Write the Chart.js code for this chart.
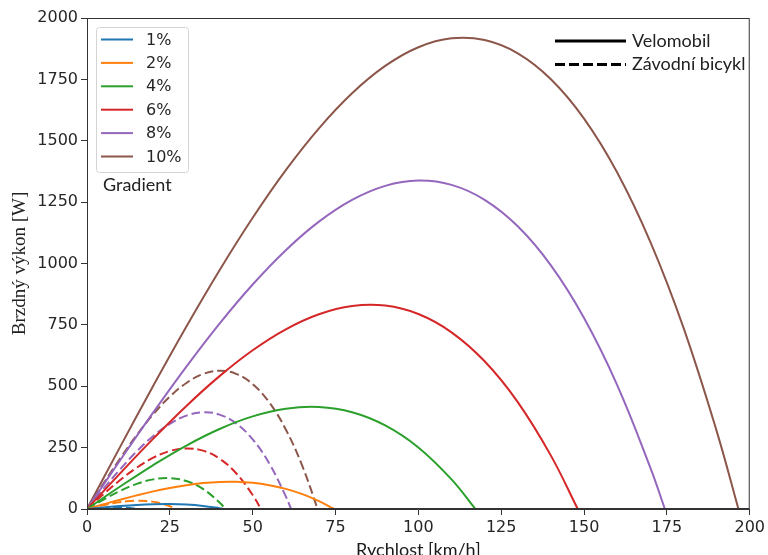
<!DOCTYPE html>
<html>
<head>
<meta charset="utf-8">
<script src="https://cdn.jsdelivr.net/npm/chart.js@4/dist/chart.umd.min.js"></script>
<style>
  html, body { margin: 0; padding: 0; background: #fff; overflow: hidden; }
  canvas { display: block; }
</style>
</head>
<body>
<canvas id="chart" width="768" height="555"></canvas>
<script>
// ----------------------
// DATA
// ----------------------
const grades = ["1%", "2%", "4%", "6%", "8%", "10%"];
const colors = ["#1f77b4", "#ff7f0e", "#2ca02c", "#d62728", "#9467bd", "#8c564b"];
const xTicks = [0, 25, 50, 75, 100, 125, 150, 175, 200];

// Velomobil (solid)
const veloSpeed1 = [0, 5, 10, 15, 20, 25, 30, 35, 40, 41.5];
const veloPower1 = [0, 6.2, 11.8, 16.3, 19.2, 19.9, 17.9, 12.6, 3.5, 0];
const veloSpeed2 = [0, 5, 10, 15, 20, 25, 30, 35, 40, 45, 50, 55, 60, 65, 70, 74.6];
const veloPower2 = [0, 19.2, 38.0, 55.6, 71.8, 85.8, 97.2, 105.5, 110.2, 110.7, 106.5, 97.0, 81.9, 60.5, 32.3, 0];
const veloSpeed4 = [0, 10, 20, 30, 40, 50, 60, 70, 80, 90, 100, 110, 117.2];
const veloPower4 = [0, 91.5, 179.1, 258.5, 325.9, 377.2, 408.3, 415.3, 394.1, 340.5, 250.8, 120.8, 0];
const veloSpeed6 = [0, 10, 20, 30, 40, 50, 60, 70, 80, 90, 100, 110, 120, 130, 140, 148.1];
const veloPower6 = [0, 145.3, 286.6, 419.9, 541.2, 646.6, 732.0, 793.4, 826.9, 828.5, 794.1, 719.7, 601.6, 435.4, 217.4, 0];
const veloSpeed8 = [0, 10, 20, 30, 40, 50, 60, 70, 80, 90, 100, 110, 120, 130, 140, 150, 160, 170, 174.4];
const veloPower8 = [0, 198.6, 393.4, 580.2, 755.3, 914.6, 1054.3, 1170.4, 1258.9, 1316.1, 1337.7, 1320.2, 1259.4, 1151.4, 992.2, 777.9, 504.8, 168.7, 0];
const veloSpeed10 = [0, 10, 20, 30, 40, 50, 60, 70, 80, 90, 100, 110, 120, 130, 140, 150, 160, 170, 180, 190, 196.6];
const veloPower10 = [0, 253.0, 502.1, 743.4, 972.8, 1186.4, 1380.4, 1550.7, 1693.5, 1804.7, 1880.7, 1917.2, 1910.1, 1856.2, 1750.7, 1590.3, 1370.8, 1088.2, 738.9, 318.3, 0];

// Zavodni bicykl (dashed)
const bikeSpeed1 = [0, 2, 4, 6, 8, 10, 12, 14, 15.3];
const bikePower1 = [0, 2.1, 3.9, 5.3, 6.1, 6.0, 4.8, 2.4, 0];
const bikeSpeed2 = [0, 3, 6, 9, 12, 15, 18, 21, 24, 27];
const bikePower2 = [0, 9.7, 18.7, 26.2, 31.5, 33.9, 32.7, 27.1, 16.5, 0];
const bikeSpeed4 = [0, 5, 10, 15, 20, 25, 30, 35, 40, 41.8];
const bikePower4 = [0, 38.6, 73.8, 102.4, 120.7, 125.7, 113.9, 81.9, 26.4, 0];
const bikeSpeed6 = [0, 5, 10, 15, 20, 25, 30, 35, 40, 45, 50, 52.5];
const bikePower6 = [0, 60.5, 117.8, 168.3, 208.9, 236.2, 246.9, 237.6, 205.0, 145.8, 56.8, 0];
const bikeSpeed8 = [0, 5, 10, 15, 20, 25, 30, 35, 40, 45, 50, 55, 60, 61.6];
const bikePower8 = [0, 82.6, 161.8, 234.5, 297.4, 347.1, 380.3, 393.9, 384.5, 348.8, 283.5, 185.5, 51.3, 0];
const bikeSpeed10 = [0, 5, 10, 15, 20, 25, 30, 35, 40, 45, 50, 55, 60, 65, 69.6];
const bikePower10 = [0, 104.6, 205.9, 300.7, 385.7, 457.7, 513.4, 549.6, 563.1, 550.5, 508.6, 434.1, 323.9, 174.6, 0];

const veloSpeeds = [veloSpeed1, veloSpeed2, veloSpeed4, veloSpeed6, veloSpeed8, veloSpeed10];
const veloPowers = [veloPower1, veloPower2, veloPower4, veloPower6, veloPower8, veloPower10];
const bikeSpeeds = [bikeSpeed1, bikeSpeed2, bikeSpeed4, bikeSpeed6, bikeSpeed8, bikeSpeed10];
const bikePowers = [bikePower1, bikePower2, bikePower4, bikePower6, bikePower8, bikePower10];

// ----------------------
// HELPERS
// ----------------------
function toPoints(xs, ys) {
  return xs.map((x, i) => ({ x, y: ys[i] }));
}

function makeSet(label, xs, ys, color, dashed) {
  return {
    label,
    data: toPoints(xs, ys),
    borderColor: color,
    backgroundColor: color,
    borderWidth: 2,
    borderDash: dashed ? [9, 4] : [],
    pointRadius: 0,
    fill: false,
    tension: 0.4
  };
}

const datasets = [];
grades.forEach((g, i) => {
  datasets.push(makeSet(g, veloSpeeds[i], veloPowers[i], colors[i], false));
});
grades.forEach((g, i) => {
  datasets.push(makeSet(g + " bicykl", bikeSpeeds[i], bikePowers[i], colors[i], true));
});

// ----------------------
// LEGENDS + FRAME
// ----------------------
const overlayPlugin = {
  id: "overlay",
  afterDraw(chart) {
    const ctx = chart.ctx;
    const a = chart.chartArea;
    ctx.save();

    // frame (top/right spines)
    ctx.strokeStyle = "#333";
    ctx.lineWidth = 1;
    ctx.strokeRect(a.left + 0.5, a.top + 0.5, a.right - a.left - 1, a.bottom - a.top - 1);

    // gradient legend box
    const bx = 96, by = 27, bw = 92, bh = 145;
    ctx.fillStyle = "rgba(255,255,255,0.85)";
    ctx.strokeStyle = "#d4d4d4";
    ctx.beginPath();
    ctx.roundRect(bx + 0.5, by + 0.5, bw, bh, 3);
    ctx.fill();
    ctx.stroke();

    ctx.font = "16px 'DejaVu Sans'";
    ctx.textBaseline = "middle";
    ctx.textAlign = "left";
    grades.forEach((g, i) => {
      const y = 39.5 + i * 23.4;
      ctx.strokeStyle = colors[i];
      ctx.lineWidth = 2;
      ctx.setLineDash([]);
      ctx.beginPath();
      ctx.moveTo(101, y);
      ctx.lineTo(133, y);
      ctx.stroke();
      ctx.fillStyle = "#262626";
      ctx.fillText(g, 146, y + 1);
    });

    ctx.font = "18px Lato";
    ctx.fillStyle = "#222";
    ctx.fillText("Gradient", 103, 185);

    // style legend
    const styles = [["Velomobil", []], ["Závodní bicykl", [10, 4]]];
    styles.forEach(([txt, dash], i) => {
      const y = 41 + i * 23.4;
      ctx.strokeStyle = "#000";
      ctx.lineWidth = 3;
      ctx.setLineDash(dash);
      ctx.beginPath();
      ctx.moveTo(555, y);
      ctx.lineTo(626, y);
      ctx.stroke();
      ctx.setLineDash([]);
      ctx.fillStyle = "#222";
      ctx.fillText(txt, 632, y);
    });

    ctx.restore();
  }
};

// ----------------------
// CHART
// ----------------------
const chart = new Chart(document.getElementById("chart").getContext("2d"), {
  type: "line",
  data: { datasets },
  options: {
    responsive: false,
    animation: false,
    layout: { padding: { top: 18, right: 16, left: 0, bottom: 0 } },
    plugins: {
      legend: { display: false },
      tooltip: { enabled: false }
    },
    scales: {
      x: {
        type: "linear",
        min: 0,
        max: 200,
        afterBuildTicks(axis) {
          axis.ticks = xTicks.map(v => ({ value: v }));
        },
        afterFit(axis) { axis.height = 46; },
        grid: { drawOnChartArea: false, drawTicks: true, tickLength: 6, tickColor: "#333" },
        border: { display: true, color: "#333" },
        ticks: {
          color: "#262626",
          font: { family: "'DejaVu Sans'", size: 16 },
          padding: 3,
          maxRotation: 0,
          callback: v => String(v)
        },
        title: {
          display: true,
          text: "Rychlost [km/h]",
          color: "#1a1a1a",
          font: { family: "Lato", size: 18 },
          padding: { top: 0, bottom: -6 }
        }
      },
      y: {
        min: 0,
        max: 2000,
        ticks: {
          stepSize: 250,
          color: "#262626",
          font: { family: "'DejaVu Sans'", size: 16 },
          padding: 3,
          callback: v => String(v)
        },
        afterFit(axis) { axis.width = 87; },
        grid: { drawOnChartArea: false, drawTicks: true, tickLength: 6, tickColor: "#333" },
        border: { display: true, color: "#333" },
        title: {
          display: true,
          text: "Brzdný výkon [W]",
          color: "#222",
          font: { family: "Liberation Serif", size: 19 },
          padding: { top: 9, bottom: 0 }
        }
      }
    }
  },
  plugins: [overlayPlugin]
});
</script>
</body>
</html>
